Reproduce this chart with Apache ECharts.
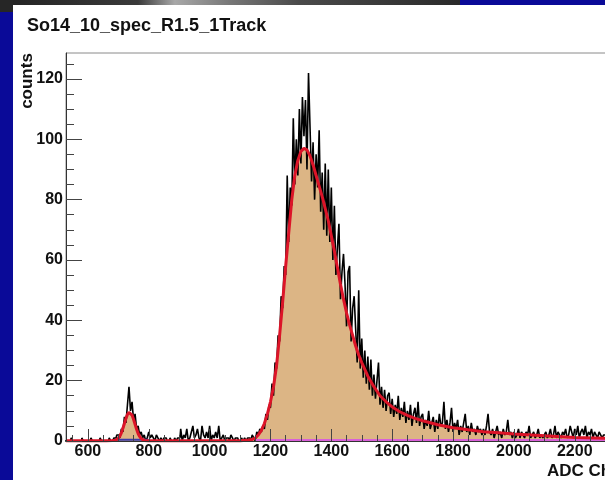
<!DOCTYPE html>
<html>
<head>
<meta charset="utf-8">
<script src="https://cdn.jsdelivr.net/npm/echarts@6/dist/echarts.min.js"></script>
<style>html,body{margin:0;padding:0;background:#0a0a98;}#c{width:605px;height:480px;}</style>
</head>
<body>
<div id="c"></div>
<script>
// ---- data ----
const titleText = 'So14_10_spec_R1.5_1Track';
const yTitle = 'counts';
const xTitle = 'ADC Ch';
const binStart = 500;
const binWidth = 5;
const counts = [
  0,0,0,1,0,0,0,0,0,1,0,0,0,0,0,0,1,0,0,0,
  0,0,1,0,0,0,0,0,1,0,0,0,0,0,1,0,0,1,1,2,
  2,1,4,3,8,6,12,18,10,13,7,9,4,5,2,3,1,2,0,1,
  3,1,2,1,0,2,1,0,1,0,1,1,0,0,1,0,0,1,0,1,
  1,4,0,2,1,4,0,1,3,5,1,2,4,1,0,5,2,1,3,1,
  5,0,2,1,3,1,5,0,1,2,0,1,1,0,2,1,0,1,1,0,
  0,1,0,1,0,1,1,0,2,1,0,3,2,4,3,5,4,9,7,12,
  11,19,15,26,24,35,33,48,44,58,55,88,66,84,78,107,85,100,88,110,
  92,114,101,113,90,122,104,86,99,80,95,84,103,76,89,70,92,68,90,66,
  84,60,78,55,64,72,47,56,62,52,38,56,58,33,44,48,37,26,50,24,
  34,21,30,19,28,17,27,15,22,14,20,26,12,18,11,17,10,15,16,9,
  14,8,12,9,15,7,11,8,13,6,10,7,12,5,9,11,6,13,5,8,
  9,4,7,5,10,4,6,8,3,7,4,9,5,6,13,4,7,3,6,11,
  3,6,4,7,2,5,3,6,9,3,5,2,6,3,4,2,5,3,4,2,
  4,2,5,9,3,2,4,1,3,5,2,3,1,4,2,3,7,2,3,1,
  3,1,2,4,1,3,2,1,3,2,5,1,2,3,1,2,4,1,2,1,
  2,3,1,2,4,1,2,5,1,3,2,1,3,2,4,1,2,5,3,1,
  4,2,5,1,3,4,2,5,1,3,2,4,1,3,2,1,3,2,1,2,
  2,1,3,1,2,1,0,2,1,3,1,2,1,1,2,0,1,2,1,1
];
const fitX = [528,660,680,690,695,
  700,705,710,715,720,725,730,735,740,745,750,755,760,765,770,775,780,785,790,
  800,820,1100,1130,1140,
  1150,1160,1170,1180,1190,1200,1210,1220,1230,1240,1250,1260,1270,1280,1290,1300,1310,1320,1330,1340,
  1350,1360,1370,1380,1390,1400,1410,1420,1430,1440,1450,1460,1470,1480,1490,1500,
  1520,1540,1560,1580,1600,1625,1650,1675,1700,1750,1800,1850,1900,1950,2000,2100,2200,2300,2400];
const fitY = [0.1,0.1,0.15,0.2,0.45,
  0.9,1.6,2.7,4.2,5.8,7.5,8.8,9.5,9.4,8.6,7.2,5.5,3.9,2.5,1.5,0.8,0.4,0.2,0.1,
  0.1,0.1,0.1,0.3,0.5,
  1,2,3.5,5.8,9,13,18,25,35,46,58,69,80,88,93,96,97,96.5,94.5,91.5,
  88,84.5,81,77,73,68,63,57.5,52,47,42.5,38.5,35,31.5,28.5,26,
  21.5,18,15,13,11.3,9.7,8.5,7.5,6.7,5.4,4.4,3.7,3.1,2.7,2.3,1.7,1.2,0.9,0.7];
const pinkX = [1150, 2400];
const pinkY = [0.15, 0.15];
const blueX = [690, 800];
const blueY = [0.4, 0.4];
const xTicks = [600,800,1000,1200,1400,1600,1800,2000,2200];
const xMinor = [550,650,700,750,850,900,950,1050,1100,1150,1250,1300,1350,1450,1500,1550,1650,1700,1750,1850,1900,1950,2050,2100,2150,2250,2300,2350];
const yTicks = [0,20,40,60,80,100,120];
const yMinor = [5,10,15,25,30,35,45,50,55,65,70,75,85,90,95,105,110,115,125];

// ---- build ----
const histData = counts.map((c, i) => [binStart + binWidth * (i + 0.5), c]);
const fitData = fitX.map((x, i) => [x, fitY[i]]);
const pinkData = pinkX.map((x, i) => [x, pinkY[i]]);
const blueData = blueX.map((x, i) => [x, blueY[i]]);

const FONT = 'Liberation Sans';
const XMIN = 528, XMAX = 2398, YMIN = 0, YMAX = 128.6;
const tickColor = '#444';
const plain = v => String(Math.round(v));

const chart = echarts.init(document.getElementById('c'), null, {renderer: 'canvas'});
chart.setOption({
  animation: false,
  backgroundColor: '#0a0a98',
  title: {
    text: titleText, left: 22, top: 12,
    textStyle: {fontSize: 18, fontWeight: 'bold', color: '#111', fontFamily: FONT}
  },
  graphic: [
    {type: 'rect', z: -10, shape: {x: 0, y: 0, width: 460, height: 5},
      style: {fill: {type: 'linear', x: 0, y: 0, x2: 1, y2: 0, colorStops: [
        {offset: 0, color: '#222'}, {offset: 0.3, color: '#3a3a3a'}, {offset: 0.38, color: '#a8a8a8'},
        {offset: 0.5, color: '#777'}, {offset: 0.65, color: '#4a4a4a'}, {offset: 1, color: '#2a2a2a'}]}}},
    {type: 'rect', z: -10, shape: {x: 0, y: 0, width: 13, height: 12}, style: {fill: '#262626'}},
    {type: 'rect', z: -10, shape: {x: 13, y: 5, width: 592, height: 475}, style: {fill: '#ffffff'}},
    {type: 'text', z: 100, x: 27, y: 81, rotation: Math.PI / 2,
      style: {text: yTitle, fill: '#111', font: 'bold 17px "Liberation Sans"', align: 'center', verticalAlign: 'middle'}},
    {type: 'text', z: 100, x: 547, y: 471,
      style: {text: xTitle, fill: '#111', font: 'bold 17px "Liberation Sans"', align: 'left', verticalAlign: 'middle'}}
  ],
  grid: {left: 66, top: 53, right: -30, bottom: 39, show: true, borderColor: '#8a8a8a', borderWidth: 1,
    backgroundColor: 'transparent', containLabel: false, outerBoundsMode: 'none'},
  xAxis: [
    {type: 'value', min: XMIN, max: XMAX, position: 'bottom', z: 10,
      axisLine: {show: true, onZero: false, lineStyle: {color: '#333', width: 1}},
      axisTick: {show: true, inside: true, length: 12, customValues: xTicks, lineStyle: {color: tickColor}},
      axisLabel: {show: true, customValues: xTicks, formatter: plain, fontSize: 16, fontWeight: 'bold', color: '#111', margin: 3, fontFamily: FONT},
      splitLine: {show: false}},
    {type: 'value', min: XMIN, max: XMAX, position: 'bottom', z: 10,
      axisLine: {show: false, onZero: false},
      axisTick: {show: true, inside: true, length: 6, customValues: xMinor, lineStyle: {color: tickColor}},
      axisLabel: {show: false}, splitLine: {show: false}}
  ],
  yAxis: [
    {type: 'value', min: YMIN, max: YMAX, position: 'left', z: 10,
      axisLine: {show: true, onZero: false, lineStyle: {color: '#333', width: 1}},
      axisTick: {show: true, inside: true, length: 16, customValues: yTicks, lineStyle: {color: tickColor}},
      axisLabel: {show: true, customValues: yTicks, formatter: plain, fontSize: 16, fontWeight: 'bold', color: '#111', margin: 3, fontFamily: FONT},
      splitLine: {show: false}},
    {type: 'value', min: YMIN, max: YMAX, position: 'left', z: 10,
      axisLine: {show: false, onZero: false},
      axisTick: {show: true, inside: true, length: 8, customValues: yMinor, lineStyle: {color: tickColor}},
      axisLabel: {show: false}, splitLine: {show: false}}
  ],
  series: [
    {name: 'fill', type: 'line', data: fitData, symbol: 'none', z: 1, silent: true,
      lineStyle: {width: 0}, areaStyle: {color: '#dcb585', opacity: 1}},
    {name: 'hist', type: 'line', step: 'middle', data: histData, symbol: 'none', z: 2,
      lineStyle: {color: '#000', width: 1.6}},
    {name: 'bkg2', type: 'line', data: blueData, symbol: 'none', z: 3, clip: false,
      lineStyle: {color: '#3a3aa8', width: 2}},
    {name: 'bkg', type: 'line', data: pinkData, symbol: 'none', z: 3, clip: false,
      lineStyle: {color: '#d860d8', width: 3}},
    {name: 'fit', type: 'line', data: fitData, symbol: 'none', z: 4, clip: false,
      lineStyle: {color: '#dc1428', width: 3}}
  ]
});
</script>
</body>
</html>
